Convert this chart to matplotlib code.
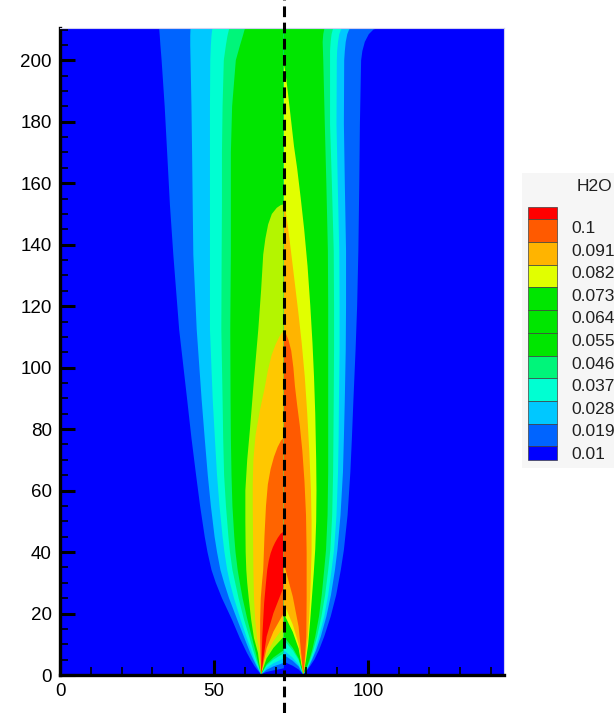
import matplotlib.pyplot as plt
from matplotlib.patches import Rectangle

plt.rcParams['font.family'] = ['Liberation Sans', 'DejaVu Sans']

x_axis = 72.7   # dashed line between the two halves
y_top = 210.5

# legend (Tecplot style, top to bottom)
legend_labels = ['0.1', '0.091', '0.082', '0.073', '0.064', '0.055',
                 '0.046', '0.037', '0.028', '0.019', '0.01']
legend_colors = ['#ff0000', '#ff5a00', '#ffb400', '#e1ff00', '#00e600', '#00e600',
                 '#00e600', '#00f57a', '#00ffd2', '#00c8ff', '#0064ff', '#0000ff']

# ---------------- left half, jet at x ~ 65 ----------------
left_y = [0.2, 1.5, 3, 5, 7.2, 12, 17.9, 25, 30, 34.2, 40, 45, 55, 65, 77, 89.6,
          112.4, 136.8, 153, 170, 185, 200, 205, 208, 210.5]
left_b1 = [65.3, 64.2, 63.1, 61.9, 60.7, 58.4, 55.9, 52.6, 50.6, 49.2, 47.9, 47.0, 45.5, 44.2, 42.7, 41.3,
           38.7, 36.8, 35.7, 34.8, 34.0, 33.0, 32.6, 32.4, 32.2]
left_b2 = [65.3, 64.6, 63.8, 62.8, 61.8, 59.9, 57.6, 54.9, 53.3, 52.1, 51.0, 50.2, 49.0, 48.0, 47.0, 46.0,
           44.4, 43.3, 43.1, 42.9, 42.7, 42.4, 42.3, 42.3, 42.4]
left_b3 = [65.3, 64.8, 64.1, 63.2, 62.4, 60.7, 58.7, 56.5, 55.2, 54.3, 53.4, 52.8, 51.8, 51.0, 50.3, 49.6,
           48.7, 48.7, 48.7, 48.7, 48.7, 48.8, 49.0, 49.2, 49.5]
left_b4 = [65.3, 64.9, 64.4, 63.7, 63.0, 61.6, 59.8, 58.0, 56.9, 56.0, 55.2, 54.7, 53.9, 53.3, 53.0, 52.8,
           52.4, 52.5, 52.6, 52.6, 52.8, 53.2, 53.9, 54.4, 55.0]
left_b5 = [65.3, 65.0, 64.6, 64.1, 63.6, 62.4, 60.9, 59.3, 58.4, 57.7, 57.0, 56.6, 56.0, 55.7, 55.5, 55.4,
           55.3, 55.5, 55.5, 55.5, 55.9, 57.1, 58.5, 59.4, 60.1]

# inner levels end on the dashed line
left_b6_x = [65.3, 65.0, 64.7, 64.3, 63.0, 62.1, 61.3, 60.8, 60.5, 60.3, 60.2, 60.2, 60.8, 61.7, 62.9,
             64.4, 65.3, 66.0, 66.7, 67.6, 68.8, 70.4, 71.7, 72.7]
left_b6_y = [0.2, 2, 4, 7.2, 12, 17.9, 25, 30, 34.2, 40, 50, 60, 70, 80, 95,
             112.4, 125, 136.8, 142, 146.6, 150, 152, 152.9, 153.1]
left_b7_x = [65.3, 65.2, 65.1, 64.9, 64.0, 63.4, 63.0, 62.8, 62.7, 62.6, 62.6, 62.8, 63.5, 64.9, 66.4,
             67.5, 68.7, 70.0, 71.2, 72.1, 72.7]
left_b7_y = [0.2, 2, 4, 7.2, 12, 17.9, 25, 34.2, 45, 55, 62, 70, 78, 86, 93,
             99, 104, 107.5, 110, 111.4, 111.8]
left_b8_x = [65.3, 65.25, 65.2, 65.1, 65.0, 65.0, 65.2, 65.6, 66.0, 66.4, 66.9, 67.5, 68.4, 69.5, 70.7, 71.8, 72.7]
left_b8_y = [0.2, 2, 4, 7.2, 12, 17.9, 25, 30, 34.2, 45, 55, 62, 67, 71, 74.2, 76.3, 77.2]
left_b9_x = [65.3, 65.5, 65.7, 66.0, 66.3, 66.8, 67.3, 67.8, 68.4, 69.1, 69.8, 70.7, 71.6, 72.7]
left_b9_y = [0.2, 6, 12.5, 18, 23.4, 29, 34.2, 37.2, 39.6, 41.5, 43.0, 44.6, 45.9, 46.7]

# arches between the jet and the dashed line (from jet to dashed line)
left_arch_x = [65.3, 67.1, 69.3, 71.4, 72.7]
left_arch_y = [
    [0.2, 1.0, 1.5, 1.9, 2.2],
    [0.2, 1.7, 2.8, 3.5, 4.0],
    [0.2, 2.3, 3.8, 4.8, 5.4],
    [0.2, 3.1, 5.0, 6.3, 7.1],
    [0.2, 3.5, 5.7, 7.2, 8.1],
    [0.2, 5.4, 8.8, 11.1, 12.5],
    [0.2, 6.8, 11.0, 13.9, 15.7],
    [0.2, 8.7, 14.1, 17.9, 20.2],
    [0.2, 12.5, 20.1, 25.5, 28.8],
]
left_colors = ['#0064ff', '#00c8ff', '#00ffd2', '#00f57a', '#00e600',
               '#b4f500', '#ffc800', '#ff6400', '#ff0000']

# ---------------- right half, jet at x ~ 79 ----------------
right_y = [0.2, 1.5, 3, 5, 8.1, 12.5, 19, 26, 34.2, 40.7, 52, 66, 77, 89.6, 105.9, 120, 138, 160, 179.2,
           200, 203, 206, 208.5, 210, 210.5]
right_b1 = [79.0, 80.2, 81.3, 82.6, 84.1, 85.8, 87.9, 89.7, 91.2, 92.2, 93.4, 94.3, 94.8, 95.3, 96.0, 96.5, 96.9, 97.2, 97.4,
            97.8, 98.2, 99.0, 100.3, 101.8, 103.5]
right_b2 = [79.0, 80.0, 80.9, 81.9, 83.2, 84.7, 86.5, 88.0, 89.3, 90.1, 91.1, 91.9, 92.2, 92.5, 92.8, 92.9, 92.9, 92.5, 92.2,
            92.3, 92.5, 92.8, 93.3, 93.9, 94.4]
right_b3 = [79.0, 79.9, 80.7, 81.6, 82.8, 84.1, 85.8, 87.1, 88.2, 89.0, 89.8, 90.3, 90.5, 90.6, 90.8, 90.8, 90.7, 90.2, 89.8,
            89.9, 90.0, 90.3, 90.7, 91.3, 91.7]
right_b4 = [79.0, 79.8, 80.5, 81.3, 82.3, 83.5, 84.9, 86.1, 87.1, 87.8, 88.4, 88.7, 88.8, 88.9, 89.0, 89.0, 88.9, 88.3, 87.7,
            87.7, 87.7, 87.9, 88.2, 88.6, 88.8]
right_b5 = [79.0, 79.7, 80.3, 81.0, 81.9, 82.9, 84.1, 85.0, 85.8, 86.4, 86.9, 87.1, 87.1, 87.1, 87.1, 87.1, 87.0, 86.5, 86.0,
            85.5, 85.4, 85.3, 85.5, 85.8, 86.0]

right_b6_x = [79.0, 79.4, 79.9, 80.6, 81.2, 81.8, 82.4, 82.9, 83.2, 83.3, 83.2, 82.9, 82.5, 82.0, 81.3,
              80.4, 79.3, 78.2, 77.0, 76.0, 75.1, 74.3, 73.6, 73.1, 72.7]
right_b6_y = [0.2, 2, 5, 10, 17, 25, 33, 41, 50, 60, 70, 85, 97, 108, 120,
              133, 145, 155, 165, 172, 180, 187, 193, 196.8, 198.7]
right_b7_x = [79.0, 79.3, 79.7, 80.5, 81.0, 81.4, 81.7, 81.7, 81.5, 81.0, 80.3, 79.5, 78.5, 77.4, 76.2,
              75.0, 74.0, 73.3, 72.7]
right_b7_y = [0.2, 2, 5, 12.5, 20, 30, 40, 50, 60, 72, 85, 97, 108, 118, 128,
              138, 146, 150.8, 153.1]
right_b8_x = [79.0, 79.2, 79.5, 80.0, 80.1, 80.1, 79.9, 79.4, 78.7, 77.9, 77.0, 76.3, 75.8, 75.1, 74.2, 73.4, 72.7]
right_b8_y = [0.2, 2, 5, 12.5, 25, 40, 52, 63, 73, 81, 88, 94, 100, 105.5, 109, 111, 111.8]

right_arch_x = [79.0, 77.5, 75.6, 73.8, 72.7]
right_arch_y = [
    [0.2, 1.8, 3.0, 3.8, 4.3],
    [0.2, 2.8, 4.6, 5.8, 6.5],
    [0.2, 3.4, 5.6, 7.1, 8.0],
    [0.2, 4.9, 8.0, 10.1, 11.4],
    [0.2, 5.4, 8.8, 11.1, 12.5],
    [0.2, 8.6, 14.0, 17.7, 20.0],
    [0.2, 10.1, 16.4, 20.7, 23.4],
    [0.2, 15.7, 25.5, 32.2, 36.4],
]
right_colors = ['#0064ff', '#00c8ff', '#00ffd2', '#00f57a', '#00e600',
                '#e1ff00', '#ffb400', '#ff5a00']


def region(out_x, out_y, arch_x, arch_y):
    xs, ys = list(out_x), list(out_y)
    if ys[-1] >= y_top:
        xs.append(x_axis)
        ys.append(y_top)
    xs += arch_x[::-1]
    ys += arch_y[::-1]
    return xs, ys


left_outer = [(b, left_y) for b in [left_b1, left_b2, left_b3, left_b4, left_b5]]
left_outer += [(left_b6_x, left_b6_y), (left_b7_x, left_b7_y),
               (left_b8_x, left_b8_y), (left_b9_x, left_b9_y)]
right_outer = [(b, right_y) for b in [right_b1, right_b2, right_b3, right_b4, right_b5]]
right_outer += [(right_b6_x, right_b6_y), (right_b7_x, right_b7_y), (right_b8_x, right_b8_y)]

fig = plt.figure(figsize=(6.14, 7.13), dpi=100)
ax = fig.add_axes([60 / 614, 38 / 713, 444 / 614, 647 / 713])
ax.set_facecolor('#0000ff')

for (ox, oy), ay, c in zip(left_outer, left_arch_y, left_colors):
    xs, ys = region(ox, oy, left_arch_x, ay)
    ax.fill(xs, ys, color=c, lw=0)
for (ox, oy), ay, c in zip(right_outer, right_arch_y, right_colors):
    xs, ys = region(ox, oy, right_arch_x, ay)
    ax.fill(xs, ys, color=c, lw=0)

ax.axvline(x_axis, ymin=-38 / 647, ymax=1 + 28 / 647, color='k', lw=2.2,
           ls=(0, (3.5, 1.8)), clip_on=False, zorder=5)

ax.set_xlim(0, 144.2)
ax.set_ylim(0, y_top)
ax.set_xticks([0, 50, 100])
ax.set_xticks(range(0, 141, 10), minor=True)
ax.set_yticks(range(0, 201, 20))
ax.set_yticks(range(0, 211, 5), minor=True)
ax.tick_params(which='major', direction='in', length=11, width=2.2, labelsize=13.5, pad=6,
               top=False, right=False)
ax.tick_params(which='minor', direction='in', length=5.5, width=1.2, top=False, right=False)
for s in ['left', 'bottom']:
    ax.spines[s].set_linewidth(2.4)
for s in ['top', 'right']:
    ax.spines[s].set_color('#d0d0f0')
    ax.spines[s].set_linewidth(0.8)

# legend drawn in pixel coordinates
lax = fig.add_axes([522 / 614, (713 - 468) / 713, 120 / 614, 295 / 713])
lax.set_xlim(522, 642)
lax.set_ylim(468, 173)
lax.axis('off')
lax.add_patch(Rectangle((522, 173), 120, 295, color='#f6f6f6', lw=0))
edges = [207, 219.3] + [219.3 + 22.7 * i for i in range(1, 11)] + [460]
for i, c in enumerate(legend_colors):
    lax.add_patch(Rectangle((528, edges[i]), 29, edges[i + 1] - edges[i],
                            facecolor=c, edgecolor='#404040', lw=0.5))
for i, lab in enumerate(legend_labels):
    lax.text(571, 228.5 + 22.6 * i, lab, fontsize=12.5, va='center', ha='left', color='#202020')
lax.text(577, 186.5, 'H2O', fontsize=12.5, va='center', ha='left', color='#202020')

fig.savefig('out.png', dpi=100)
